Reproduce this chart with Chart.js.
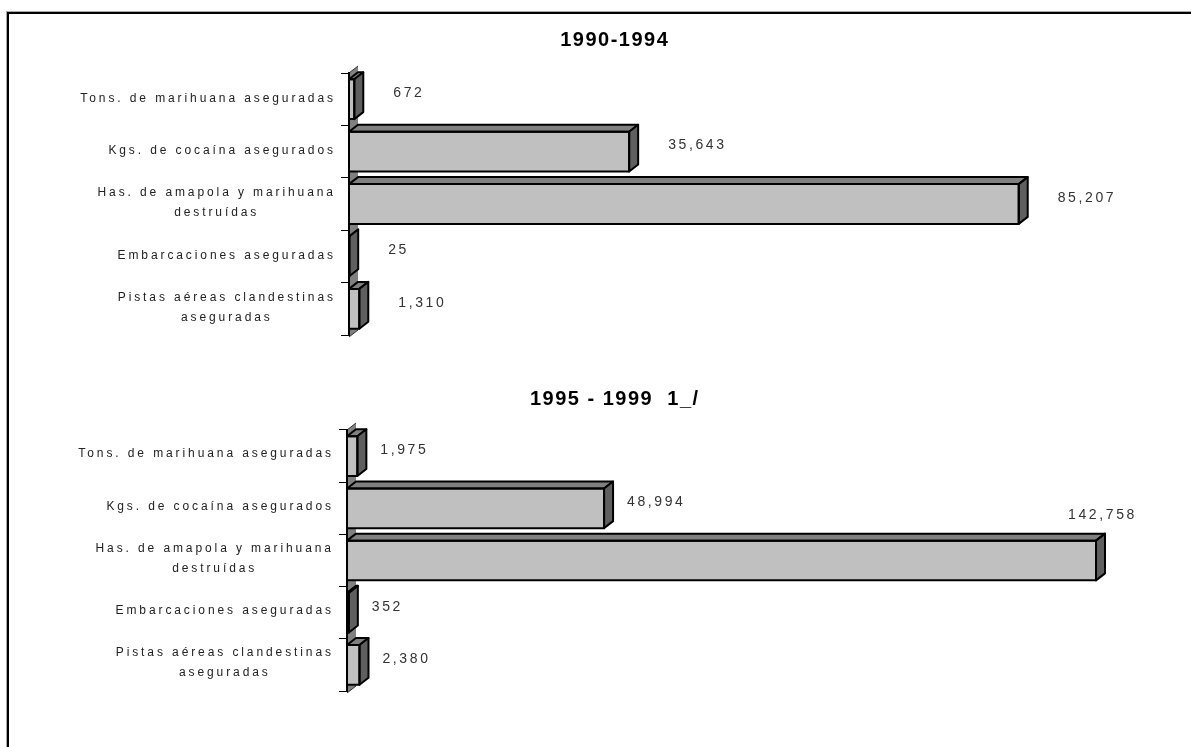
<!DOCTYPE html>
<html>
<head>
<meta charset="utf-8">
<script src="https://cdn.jsdelivr.net/npm/chart.js@4/dist/chart.umd.min.js"></script>
<style>
  html, body { margin: 0; padding: 0; background: #fff; }
  #page { position: relative; width: 1191px; height: 747px; overflow: hidden; background: #fff; }
  #frame { position: absolute; left: 7px; top: 12px; width: 1300px; height: 900px;
           border-top: 2px solid #000; border-left: 2px solid #000; box-shadow: -1px -1px 0 #aaa; }
  canvas { position: absolute; left: 0; }
</style>
</head>
<body>
<div id="page">
  <div id="frame"></div>
  <canvas id="c1" width="1191" height="370" style="top:0px"></canvas>
  <canvas id="c2" width="1191" height="377" style="top:370px"></canvas>
</div>
<script>
// ---- data ----
const categories = [
  ["Tons. de marihuana aseguradas"],
  ["Kgs. de cocaína asegurados"],
  ["Has. de amapola y marihuana", "destruídas"],
  ["Embarcaciones aseguradas"],
  ["Pistas aéreas clandestinas", "aseguradas"]
];
const title1 = "1990-1994";
const title2 = "1995 - 1999  1_/";
const values1990_1994 = [672, 35643, 85207, 25, 1310];
const values1995_1999 = [1975, 48994, 142758, 352, 2380];

const LABEL_FONT = '12px "Liberation Sans", Arial, sans-serif';
const VALUE_FONT = '14px "Liberation Sans", Arial, sans-serif';
const TITLE_FONT = 'bold 20px "Liberation Sans", Arial, sans-serif';

const bar3d = {
  id: 'bar3d',
  beforeDraw(chart, args, o) {
    const { ctx, chartArea: a, scales: { x } } = chart;
    const x0 = x.getPixelForValue(0);
    ctx.save();
    ctx.fillStyle = '#808080';
    ctx.beginPath();
    ctx.moveTo(x0, a.bottom + 2);
    ctx.lineTo(x0 + o.dx, a.bottom + 2 - o.dy);
    ctx.lineTo(x0 + o.dx, a.top - o.dy);
    ctx.lineTo(x0, a.top);
    ctx.closePath();
    ctx.fill();
    ctx.strokeStyle = '#333';
    ctx.lineWidth = 1;
    ctx.beginPath();
    ctx.moveTo(x0, a.top); ctx.lineTo(x0 + o.dx, a.top - o.dy);
    ctx.moveTo(x0, a.bottom + 2); ctx.lineTo(x0 + o.dx, a.bottom + 2 - o.dy);
    ctx.stroke();
    ctx.restore();
  },
  afterDatasetsDraw(chart, args, o) {
    const { ctx } = chart;
    const meta = chart.getDatasetMeta(0);
    ctx.save();
    ctx.lineWidth = 2;
    ctx.strokeStyle = '#000';
    ctx.lineJoin = 'round';
    meta.data.forEach(bar => {
      const p = bar.getProps(['x', 'y', 'base', 'height'], true);
      const l = p.base, r = p.x, t = p.y - p.height / 2, b = p.y + p.height / 2;
      ctx.fillStyle = '#808080';
      ctx.beginPath();
      ctx.moveTo(l, t); ctx.lineTo(l + o.dx, t - o.dy); ctx.lineTo(r + o.dx, t - o.dy); ctx.lineTo(r, t);
      ctx.closePath(); ctx.fill(); ctx.stroke();
      ctx.fillStyle = '#5f5f5f';
      ctx.beginPath();
      ctx.moveTo(r, t); ctx.lineTo(r + o.dx, t - o.dy); ctx.lineTo(r + o.dx, b - o.dy); ctx.lineTo(r, b);
      ctx.closePath(); ctx.fill(); ctx.stroke();
      ctx.strokeRect(l, t, Math.max(r - l, 0.5), b - t);
    });
    ctx.restore();
  },
  afterDraw(chart, args, o) {
    const { ctx, chartArea: a, scales: { x, y } } = chart;
    const x0 = x.getPixelForValue(0);
    ctx.save();
    ctx.font = TITLE_FONT;
    ctx.fillStyle = '#000';
    ctx.textBaseline = 'middle';
    ctx.textAlign = 'center';
    ctx.letterSpacing = o.titleSpacing + 'px';
    ctx.fillText(o.title, o.titleX + o.titleSpacing / 2, o.titleY);
    ctx.font = LABEL_FONT;
    ctx.fillStyle = '#222';
    ctx.letterSpacing = o.labelSpacing + 'px';
    const rightX = x0 - 16 + o.labelSpacing;
    chart.data.labels.forEach((lines, i) => {
      const cy = y.getPixelForValue(i) + o.labelDy;
      const widths = lines.map(s => ctx.measureText(s).width);
      const maxW = Math.max(...widths);
      const cx = rightX - maxW / 2;
      const lh = 20;
      lines.forEach((s, k) => {
        ctx.textAlign = 'center';
        ctx.fillText(s, cx, cy + (k - (lines.length - 1) / 2) * lh);
      });
    });
    ctx.font = VALUE_FONT;
    ctx.fillStyle = '#333';
    ctx.letterSpacing = o.valueSpacing + 'px';
    const meta = chart.getDatasetMeta(0);
    const vals = chart.data.datasets[0].data;
    meta.data.forEach((bar, i) => {
      const p = bar.getProps(['x', 'y', 'height'], true);
      const txt = vals[i].toLocaleString('en-US');
      const w = ctx.measureText(txt).width;
      if (p.x + o.valueOffset + w > a.right + 10) {
        ctx.textAlign = 'center';
        ctx.fillText(txt, p.x + o.dx / 2 + 2, p.y - p.height / 2 - o.dy - 19);
      } else {
        ctx.textAlign = 'left';
        ctx.fillText(txt, p.x + o.valueOffset, p.y - 6);
      }
    });
    ctx.restore();
  }
};

function makeChart(id, values, max, padding, pluginOpts) {
  return new Chart(document.getElementById(id), {
    type: 'bar',
    data: {
      labels: categories,
      datasets: [{
        data: values,
        backgroundColor: '#c0c0c0',
        borderColor: '#000',
        borderWidth: 0,
        barPercentage: 0.76,
        categoryPercentage: 1.0
      }]
    },
    options: {
      indexAxis: 'y',
      responsive: false,
      animation: false,
      layout: { padding },
      plugins: {
        legend: { display: false },
        title: { display: false },
        tooltip: { enabled: false },
        bar3d: pluginOpts
      },
      scales: {
        x: { display: false, min: 0, max },
        y: {
          display: true,
          ticks: { display: false },
          grid: { display: true, drawOnChartArea: false, drawTicks: true, tickLength: 8,
                  color: '#000', lineWidth: 1, offset: true },
          border: { display: true, color: '#000', width: 2 }
        }
      }
    },
    plugins: [bar3d]
  });
}

makeChart('c1', values1990_1994, 100000,
  { left: 341, right: 56, top: 73, bottom: 35 },
  { dx: 9, dy: 7, title: title1, titleX: 614, titleY: 40, titleSpacing: 1.5,
    labelSpacing: 2.9, valueSpacing: 2.6, valueOffset: 39, labelDy: -1 });

makeChart('c2', values1995_1999, 150000,
  { left: 339, right: 57, top: 60, bottom: 56 },
  { dx: 9, dy: 7, title: title2, titleX: 614, titleY: 29, titleSpacing: 1.5,
    labelSpacing: 2.9, valueSpacing: 2.6, valueOffset: 23, labelDy: -2 });
</script>
</body>
</html>
